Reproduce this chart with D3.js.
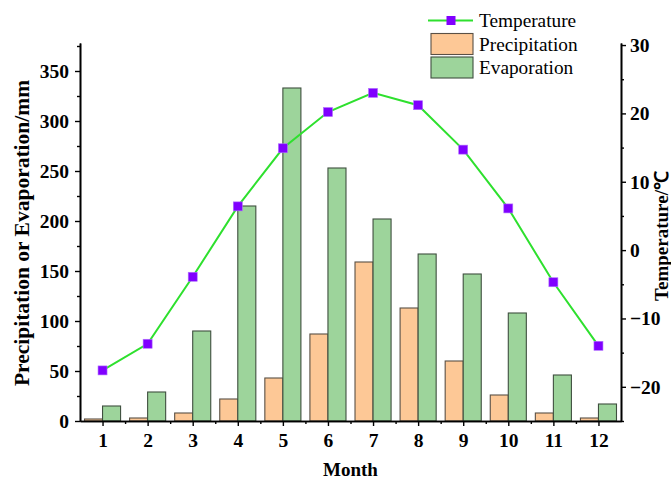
<!DOCTYPE html>
<html>
<head>
<meta charset="utf-8">
<script src="https://cdn.jsdelivr.net/npm/d3@7"></script>
<style>
  body { margin: 0; background: #fff; }
  svg { display: block; }
  text { font-family: "Liberation Serif", "Times New Roman", serif; }
</style>
</head>
<body>
<svg id="chart" width="671" height="479"></svg>
<script>
const months = [1, 2, 3, 4, 5, 6, 7, 8, 9, 10, 11, 12];
const precipitation = [2, 3, 8, 22, 43, 87, 159, 113, 60, 26, 8, 3];
const evaporation = [15, 29, 90, 215, 333, 253, 202, 167, 147, 108, 46, 17];
const temperature = [-17.6, -13.7, -3.9, 6.4, 14.9, 20.2, 23.0, 21.2, 14.7, 6.1, -4.7, -14.0];
const leftTicks = [0, 50, 100, 150, 200, 250, 300, 350];
const rightTicks = [-20, -10, 0, 10, 20, 30];

const svg = d3.select("#chart");
const mLeft = 80, mRight = 621, mTop = 43, mBottom = 421;

const x = d3.scaleLinear().domain([0.5, 12.5]).range([mLeft, mRight]);
const yL = d3.scaleLinear().domain([0, 378]).range([mBottom, mTop]);
const yR = d3.scaleLinear().domain([-25, 30.3]).range([mBottom, mTop]);
const barW = 0.4;

// bars
svg.append("g").selectAll("rect").data(months).join("rect")
  .attr("x", (d) => x(d - barW))
  .attr("y", (d, i) => yL(precipitation[i]))
  .attr("width", (d) => x(d) - x(d - barW))
  .attr("height", (d, i) => yL(0) - yL(precipitation[i]))
  .attr("fill", "#fdc896").attr("stroke", "#5a5045").attr("stroke-width", 1.1);

svg.append("g").selectAll("rect").data(months).join("rect")
  .attr("x", (d) => x(d))
  .attr("y", (d, i) => yL(evaporation[i]))
  .attr("width", (d) => x(d + barW) - x(d))
  .attr("height", (d, i) => yL(0) - yL(evaporation[i]))
  .attr("fill", "#9dd49b").attr("stroke", "#3f4f3f").attr("stroke-width", 1.1);

// axes
const fontTick = "bold 19.5px 'Liberation Serif', serif";
function styleAxis(g) {
  g.selectAll("path.domain").attr("stroke", "#000").attr("stroke-width", 1.6);
  g.selectAll(".tick line").attr("stroke", "#000").attr("stroke-width", 1.4);
  g.selectAll(".tick text").style("font", fontTick).attr("fill", "#000");
}

// minor ticks
const gMinorL = svg.append("g").attr("transform", `translate(${mLeft},0)`)
  .call(d3.axisLeft(yL).tickValues([25, 75, 125, 175, 225, 275, 325, 375]).tickSize(3).tickFormat("").tickSizeOuter(0));
styleAxis(gMinorL);
const gMinorR = svg.append("g").attr("transform", `translate(${mRight},0)`)
  .call(d3.axisRight(yR).tickValues([-25, -15, -5, 5, 15, 25]).tickSize(3).tickFormat("").tickSizeOuter(0));
styleAxis(gMinorR);
const gMinorB = svg.append("g").attr("transform", `translate(0,${mBottom})`)
  .call(d3.axisBottom(x).tickValues(d3.range(1.5, 12.5, 1)).tickSize(3).tickFormat("").tickSizeOuter(0));
styleAxis(gMinorB);

const gL = svg.append("g").attr("transform", `translate(${mLeft},0)`)
  .call(d3.axisLeft(yL).tickValues(leftTicks).tickSize(5).tickPadding(6).tickSizeOuter(0));
styleAxis(gL);
const gR = svg.append("g").attr("transform", `translate(${mRight},0)`)
  .call(d3.axisRight(yR).tickValues(rightTicks).tickSize(5).tickPadding(4).tickSizeOuter(0)
    .tickFormat((d) => d < 0 ? "\u2212" + Math.abs(d) : d));
styleAxis(gR);
const gB = svg.append("g").attr("transform", `translate(0,${mBottom})`)
  .call(d3.axisBottom(x).tickValues(months).tickSize(5).tickPadding(7).tickSizeOuter(0));
styleAxis(gB);

// temperature line
const line = d3.line().x((d, i) => x(months[i])).y((d) => yR(d));
svg.append("path").datum(temperature).attr("d", line)
  .attr("fill", "none").attr("stroke", "#2ee02e").attr("stroke-width", 2);
const ms = 9;
svg.append("g").selectAll("rect").data(temperature).join("rect")
  .attr("x", (d, i) => x(months[i]) - ms / 2)
  .attr("y", (d) => yR(d) - ms / 2)
  .attr("width", ms).attr("height", ms)
  .attr("fill", "#8000ff").attr("stroke", "#b070ff").attr("stroke-width", 0.6);

// titles
svg.append("text").attr("x", (mLeft + mRight) / 2).attr("y", 476)
  .attr("text-anchor", "middle").style("font", "bold 19px 'Liberation Serif', serif").text("Month");
svg.append("text").attr("transform", "translate(29,233) rotate(-90)")
  .attr("text-anchor", "middle").style("font", "bold 21.5px 'Liberation Serif', serif")
  .text("Precipitation or Evaporation/mm");
svg.append("text").attr("transform", "translate(668,236) rotate(-90)")
  .attr("text-anchor", "middle").style("font", "bold 19px 'Liberation Serif', serif")
  .text("Temperature/\u2103");

// legend
const lg = svg.append("g");
const legFont = "19.3px 'Liberation Serif', serif";
lg.append("line").attr("x1", 428).attr("x2", 473).attr("y1", 20.5).attr("y2", 20.5)
  .attr("stroke", "#2ee02e").attr("stroke-width", 2);
lg.append("rect").attr("x", 451 - ms / 2).attr("y", 20.5 - ms / 2).attr("width", ms).attr("height", ms)
  .attr("fill", "#8000ff");
lg.append("text").attr("x", 479).attr("y", 27).style("font", legFont).text("Temperature");
lg.append("rect").attr("x", 431).attr("y", 33.5).attr("width", 42).attr("height", 21)
  .attr("fill", "#fdc896").attr("stroke", "#5a5045").attr("stroke-width", 1.1);
lg.append("text").attr("x", 479).attr("y", 51).style("font", legFont).text("Precipitation");
lg.append("rect").attr("x", 431).attr("y", 57).attr("width", 42).attr("height", 21)
  .attr("fill", "#9dd49b").attr("stroke", "#3f4f3f").attr("stroke-width", 1.1);
lg.append("text").attr("x", 479).attr("y", 74).style("font", legFont).text("Evaporation");
</script>
</body>
</html>
